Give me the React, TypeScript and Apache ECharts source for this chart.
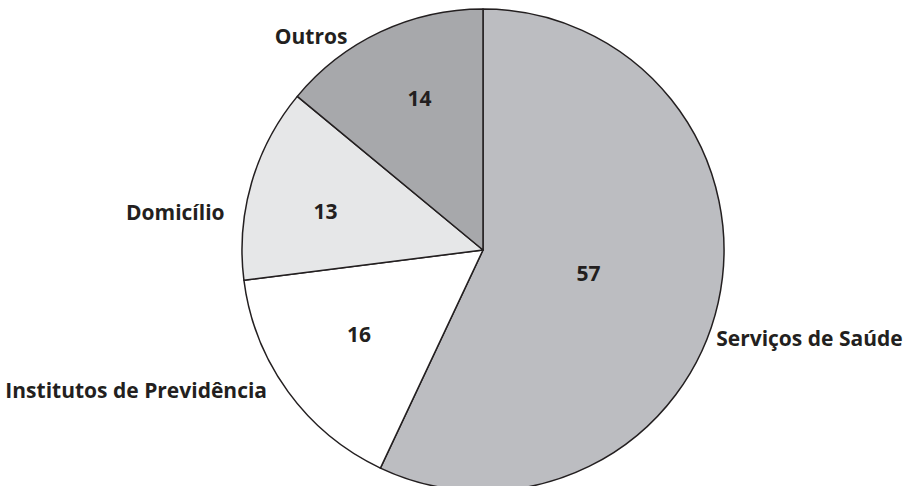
import React, { useEffect, useRef } from "react";
import * as echarts from "echarts";

// Share (%) by place
const categories = [
  "Serviços de Saúde",
  "Institutos de Previdência",
  "Domicílio",
  "Outros",
];
const values = [57, 16, 13, 14];
const sliceColors = ["#bcbdc1", "#ffffff", "#e6e7e8", "#a7a8ab"];

// Label nudges (px) relative to ECharts' default label anchors
const valueNudges: [number, number][] = [
  [-15, -4],
  [-24, 11],
  [-39, -5],
  [-11, -40],
];
const nameNudges: [number, number][] = [
  [-7, 35],
  [-16, -2],
  [-22, 29],
  [-28, 4],
];

const FONT = "'Open Sans', 'DejaVu Sans', sans-serif";
const INK = "#231f20";

export default function App() {
  const ref = useRef<HTMLDivElement>(null);

  useEffect(() => {
    document.body.style.margin = "0";
    if (!ref.current) return;
    const chart = echarts.init(ref.current, null, { renderer: "svg" });

    const data = categories.map((name, i) => ({
      name,
      value: values[i],
      itemStyle: { color: sliceColors[i] },
    }));

    chart.setOption({
      animation: false,
      backgroundColor: "#ffffff",
      series: [
        {
          type: "pie",
          center: [483, 250],
          radius: 241,
          startAngle: 90,
          clockwise: true,
          avoidLabelOverlap: false,
          silent: true,
          data,
          itemStyle: { borderColor: INK, borderWidth: 1.5 },
          label: {
            show: true,
            position: "inside",
            formatter: "{c}",
            color: INK,
            fontFamily: FONT,
            fontWeight: "bold",
            fontSize: 21,
          },
          labelLine: { show: false },
          labelLayout: (p: any) => ({
            dx: valueNudges[p.dataIndex][0],
            dy: valueNudges[p.dataIndex][1],
          }),
        },
        {
          type: "pie",
          center: [483, 250],
          radius: 241,
          startAngle: 90,
          clockwise: true,
          avoidLabelOverlap: false,
          silent: true,
          z: 3,
          data: categories.map((name, i) => ({ name, value: values[i] })),
          itemStyle: { color: "transparent", borderWidth: 0 },
          label: {
            show: true,
            position: "outside",
            formatter: "{b}",
            color: INK,
            fontFamily: FONT,
            fontWeight: "bold",
            fontSize: 21,
            distanceToLabelLine: 5,
          },
          labelLine: { show: false, length: 0, length2: 0 },
          labelLayout: (p: any) => ({
            dx: nameNudges[p.dataIndex][0],
            dy: nameNudges[p.dataIndex][1],
          }),
        },
      ],
    });

    return () => chart.dispose();
  }, []);

  return <div ref={ref} style={{ width: 911, height: 486 }} />;
}
